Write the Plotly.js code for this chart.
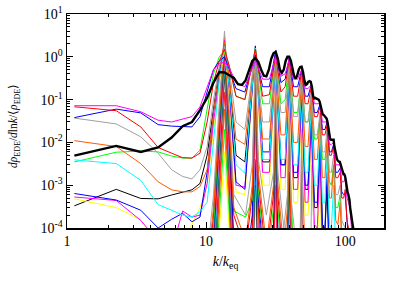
<!DOCTYPE html>
<html><head><meta charset="utf-8">
<script src="https://cdn.plot.ly/plotly-3.0.1.min.js"></script>
<style>html,body{margin:0;padding:0;background:#fff;}#c{width:409px;height:286px;}</style>
</head><body><div id="c"></div>
<script>
// ---- data ----
const kBlack = [1.13,2.26,3.39,4.52,5.65,6.78,7.91,9.04,10.17,11.3,12.43,13.56,14.69,15.82,16.95,18.08,19.21,20.34,21.47,22.6,23.73,24.86,26.0,27.12,28.25,29.38,30.5,31.64,32.77,33.9,35.03,36.16,37.29,38.42,39.55,40.68,41.81,42.94,44.07,45.2,46.33,47.46,48.6,49.7,50.85,52.0,53.1,54.2,55.4,56.5,57.6,58.8,59.9,61.0,62.2,63.3,64.4,65.5,66.7,67.8,68.9,70.0,71.2,72.3,73.5,74.6,75.7,76.8,77.9,79.1,80.2,81.4,82.5,83.6,84.7,85.9,87.0,88.1,89.3,90.4,91.5,92.7,93.8,94.9,96.0,97.2,98.3,99.4,100.6,101.7,102.8,104.0,105.1,106.2,107.3,108.5,109.6,110.7,111.9,113.0,114.1,115.3];
const vBlack = [0.0049,0.0083,0.006,0.0076,0.013,0.024,0.03,0.057,0.11,0.25,0.44,0.43,0.37,0.32,0.23,0.22,0.28,0.5,0.8,0.92,0.76,0.5,0.36,0.35,0.5,0.9,1.2,1.3,0.9,0.5,0.42,0.5,0.8,1.0,1.0,0.8,0.5,0.35,0.31,0.37,0.5,0.58,0.59,0.45,0.28,0.22,0.23,0.26,0.27,0.26,0.2,0.12,0.107,0.11,0.105,0.1,0.1,0.09,0.07,0.05,0.045,0.044,0.04,0.037,0.036,0.03,0.02,0.013,0.012,0.0115,0.0115,0.0115,0.0115,0.008,0.006,0.0045,0.0042,0.0038,0.0036,0.0035,0.0035,0.003,0.0025,0.0021,0.0019,0.0018,0.0018,0.0017,0.0014,0.001,0.00078,0.00068,0.00062,0.00055,0.00045,0.0003,0.00022,0.00018,0.00015,0.00012,0.0001,0.00007];

// grid shared by the later (broad) spectra
const kLate = [1.13,2.26,3.39,4.52,5.65,6.78,7.91,9.04,10.17,11.3,12.43,13.56,14.69,16.4,19.0,22.6,25.5,28.5,31.6,34.5,37.0,39.6,42.5,45.5,48.6,51.5,54.0,57.0,60.0,63.0,66.0,68.5,71.5,74.0,77.0,79.5,82.5,85.5,88.5,92.0,94.5,97.5,100.0,103.0,105.5,108.0,111.0,115.0];
const late1 = [0.072,0.072,0.052,0.033,0.03,0.035,0.04,0.068,0.2,0.5,0.7,0.75,0.55,0.25,0.2,0.8,0.3,0.3,1.0,0.35,0.4,0.85,0.3,0.3,0.5,0.18,0.18,0.22,0.08,0.08,0.08,0.03,0.03,0.03,0.009,0.009,0.01,0.003,0.003,0.003,0.0012,0.0012,0.0014,0.0005,0.0004,0.0003,0.0001,0.00003];
const late2 = [0.068,0.055,0.023,0.0076,0.0056,0.0044,0.0043,0.0056,0.03,0.25,0.8,1.5,0.6,0.12,0.1,1.5,0.12,0.13,1.1,0.15,0.2,0.9,0.12,0.12,0.45,0.08,0.08,0.2,0.04,0.04,0.07,0.015,0.015,0.025,0.005,0.005,0.008,0.0015,0.0015,0.002,0.0005,0.0005,0.0008,0.00015,0.0001,0.00008,0.00001,0.000001];
const late3 = [0.038,0.06,0.049,0.026,0.024,0.023,0.023,0.04,0.15,0.5,0.8,1.0,0.5,0.18,0.15,1.1,0.2,0.2,1.4,0.25,0.3,0.95,0.2,0.2,0.5,0.12,0.12,0.22,0.05,0.05,0.08,0.02,0.02,0.03,0.006,0.006,0.009,0.002,0.002,0.0025,0.0007,0.0006,0.0006,0.0002,0.00012,0.00005,0.00001,0.000001];
const late4 = [0.037,0.027,0.0135,0.0056,0.0023,0.0016,0.0014,0.0023,0.008,0.1,0.6,1.6,0.5,0.03,0.02,1.3,0.03,0.03,1.0,0.05,0.05,0.7,0.04,0.04,0.35,0.03,0.03,0.15,0.015,0.015,0.05,0.006,0.006,0.02,0.002,0.002,0.005,0.0006,0.0006,0.001,0.00015,0.00012,0.0001,0.00002];
const late5 = [0.011,0.008,0.0032,0.0012,0.00078,0.0007,0.0007,0.00093,0.0023,0.05,0.5,2.2,0.3,0.012,0.009,1.5,0.012,0.012,0.9,0.015,0.015,0.6,0.01,0.01,0.3,0.008,0.008,0.12,0.004,0.004,0.04,0.0015,0.0015,0.012,0.0005,0.0005,0.003,0.00015,0.00012,0.0004,0.00003];
const late6 = [0.0039,0.0032,0.0013,0.00035,0.00026,0.0002,0.00018,0.00024,0.0004,0.01,0.3,1.8,0.2,0.003,0.0019,1.6,0.004,0.004,0.8,0.004,0.004,0.45,0.003,0.003,0.2,0.002,0.002,0.07,0.001,0.001,0.02,0.0004,0.0004,0.005,0.00012,0.0001,0.001,0.00003];
const late7 = [0.0035,0.0059,0.0063,0.006,0.0048,0.0043,0.0043,0.0066,0.06,0.4,1.0,1.4,0.6,0.12,0.1,1.6,0.08,0.08,1.1,0.08,0.1,0.8,0.05,0.05,0.35,0.03,0.03,0.12,0.012,0.012,0.035,0.004,0.004,0.01,0.0012,0.001,0.003,0.0003,0.0003,0.0006,0.00008,0.00003];
const late8 = [0.00064,0.00045,0.00026,0.0001,0.00016,0.00022,0.00014,0.00018,0.002,0.05,0.4,2.0,0.2,0.0012,0.0008,1.8,0.006,0.006,0.9,0.003,0.003,0.4,0.002,0.002,0.15,0.001,0.001,0.05,0.0004,0.0004,0.012,0.00012,0.0001,0.002,0.00003];
const late9 = [0.00053,0.00044,0.00015,0.00005,0.00003,0.00025,0.00018,0.0002,0.0011,0.03,0.3,2.4,0.15,0.001,0.0009,1.7,0.002,0.002,0.7,0.0015,0.0015,0.3,0.0008,0.0008,0.1,0.0004,0.0004,0.025,0.00012,0.0001,0.005,0.00002];
const late10 = [0.00048,0.0003,0.000155,0.00004,0.00002,0.00005,0.00012,0.0003,0.001,0.02,0.25,1.5,0.12,0.0007,0.0006,1.5,0.001,0.001,0.6,0.0008,0.0008,0.2,0.0004,0.0004,0.06,0.0002,0.0002,0.012,0.00005,0.00004,0.002,0.000005];
const late11 = [0.00033,0.0008,0.00049,0.00048,0.00059,0.0007,0.00078,0.0011,0.005,0.06,0.5,1.2,0.3,0.005,0.0035,1.4,0.0035,0.0035,0.75,0.003,0.003,0.35,0.0015,0.0015,0.12,0.0008,0.0008,0.035,0.0003,0.0003,0.008,0.0001,0.00008,0.001,0.00001];
const lateColors = ['#ff00ff','#ff0000','#0000ff','#a0a0a0','#ff5a00','#00ffff','#00ff00','#0000ff','#ff00ff','#ffff00','#000000'];

// grid shared by the early (narrow-peaked) spectra
const kEarly = [10.17,11.3,12.43,13.56,14.69,15.82,19.2,21.47,22.6,23.73,27.1,30.5,31.6,32.8,36.2,38.4,39.6,40.7,44.0,47.5,48.6,49.7,53.0,56.5,57.6,58.8,62.0];
const early1 = [0.00002,0.0006,0.08,4.0,0.06,0.0006,0.0002,0.003,1.0,0.004,0.0002,0.002,0.4,0.002,0.0001,0.0006,0.1,0.0005,0.00005,0.0001,0.02,0.0001,0.00001,0.00002,0.003,0.00001,0.000001];
const early2 = [0.00001,0.0003,0.05,3.0,0.04,0.0003,0.00005,0.001,0.9,0.002,0.00004,0.001,0.3,0.001,0.00003,0.0003,0.06,0.0002,0.00001,0.00003,0.008,0.00003,0.000001];
const early3 = [0.000005,0.0002,0.04,2.7,0.03,0.0002,0.00003,0.0006,0.8,0.0012,0.00002,0.0006,0.2,0.0006,0.00001,0.0001,0.03,0.0001,0.000005,0.00001,0.002,0.00001];
const early4 = [0.000003,0.0001,0.03,2.2,0.02,0.00025,0.00018,0.00045,0.6,0.0008,0.00001,0.0003,0.1,0.0003,0.000005,0.00004,0.01,0.00003,0.000001];
const early5 = [0.000002,0.00006,0.02,1.8,0.015,0.00005,0.00001,0.0002,0.4,0.0005,0.000005,0.0001,0.04,0.0001,0.000002,0.00001,0.002,0.00001];
const early6 = [0.000001,0.00004,0.015,1.5,0.01,0.00003,0.000005,0.0001,0.25,0.0003,0.000002,0.00004,0.015,0.00004,0.000001];
const early7 = [0.000001,0.00003,0.01,1.2,0.008,0.00002,0.000003,0.00006,0.12,0.0002,0.000001,0.00002,0.004,0.00002,0.000001];
const early8 = [0.000001,0.00002,0.007,1.0,0.005,0.00001,0.000002,0.00003,0.05,0.0001,0.000001,0.000008,0.001,0.000008];
const early9 = [0.000001,0.00001,0.005,0.7,0.003,0.000008,0.000001,0.00001,0.015,0.00004,0.000001];
const early10 = [0.000001,0.000008,0.003,0.5,0.002,0.000005,0.000001,0.000005,0.004,0.00001];
const early11 = [0.000001,0.000005,0.002,0.3,0.0015,0.000003,0.000001,0.000002,0.001,0.000005];
const early12 = [0.000001,0.000003,0.001,0.15,0.0008,0.000002];
const early13 = [0.000001,0.000002,0.0005,0.06,0.0004,0.000001];
const early14 = [0.000001,0.000001,0.0002,0.02,0.0002,0.000001];
const early15 = [0.000001,0.000001,0.00008,0.006,0.00008,0.000001];
const earlyColors = ['#a0a0a0','#ff5a00','#ff0000','#00ff00','#0000ff','#ff0000','#ff5a00','#ff00ff','#00ffff','#000000','#a0a0a0','#ff0000','#ff5a00','#00ff00','#ffff00'];

const xTickVals = [1,10,100], xTickText = ['1','10','100'];
const yTickVals = [1e-4,1e-3,1e-2,1e-1,1,10];
const yTickText = ['10<sup>-4</sup>','10<sup>-3</sup>','10<sup>-2</sup>','10<sup>-1</sup>','10<sup>0</sup>','10<sup>1</sup>'];
const yTitleText = '<i>dρ</i><sub>EDE</sub>/<i>d</i>ln<i>k</i>/⟨<i>ρ</i><sub>EDE</sub>⟩';

// ---- traces ----
const traces = [];
const earlySets = [early15,early14,early13,early12,early11,early10,early9,early8,early7,early6,early5,early4,early3,early2,early1];
const earlyCols = earlyColors.slice().reverse();
earlySets.forEach((v,i)=>traces.push({x:kEarly.slice(0,v.length),y:v,mode:'lines',line:{color:earlyCols[i],width:1},hoverinfo:'skip'}));
const lateSets = [late11,late10,late9,late8,late7,late6,late5,late4,late3,late2,late1];
const lateCols = lateColors.slice().reverse();
lateSets.forEach((v,i)=>traces.push({x:kLate.slice(0,v.length),y:v,mode:'lines',line:{color:lateCols[i],width:1},hoverinfo:'skip'}));
traces.push({x:kBlack,y:vBlack,mode:'lines',line:{color:'#000',width:2.4},hoverinfo:'skip'});

const font = {family:'Liberation Serif, serif',size:14,color:'#000'};
const axisCommon = {type:'log',showgrid:false,zeroline:false,showline:true,linecolor:'#000',linewidth:1.5,
  mirror:'allticks',ticks:'inside',ticklen:6,tickwidth:1,tickcolor:'#000',
  minor:{ticks:'inside',ticklen:3,tickwidth:1,tickcolor:'#000',dtick:'D1',showgrid:false}};
const layout = {
  width:409,height:286,margin:{l:67,r:25,t:14,b:58},
  paper_bgcolor:'#fff',plot_bgcolor:'#fff',showlegend:false,font:font,
  xaxis:Object.assign({},axisCommon,{range:[0,Math.log10(190)],tickvals:xTickVals,ticktext:xTickText,
    title:{text:'<i>k</i>/<i>k</i><sub>eq</sub>',font:font,standoff:8}}),
  yaxis:Object.assign({},axisCommon,{range:[-4,1],tickvals:yTickVals,ticktext:yTickText}),
  annotations:[{text:yTitleText,xref:'paper',yref:'paper',x:-0.165,y:0.475,xanchor:'center',yanchor:'middle',
    textangle:-90,showarrow:false,font:{family:'Liberation Serif, serif',size:11.5,color:'#000'}}]
};
Plotly.newPlot('c',traces,layout,{staticPlot:true,displayModeBar:false});
</script>
</body></html>
